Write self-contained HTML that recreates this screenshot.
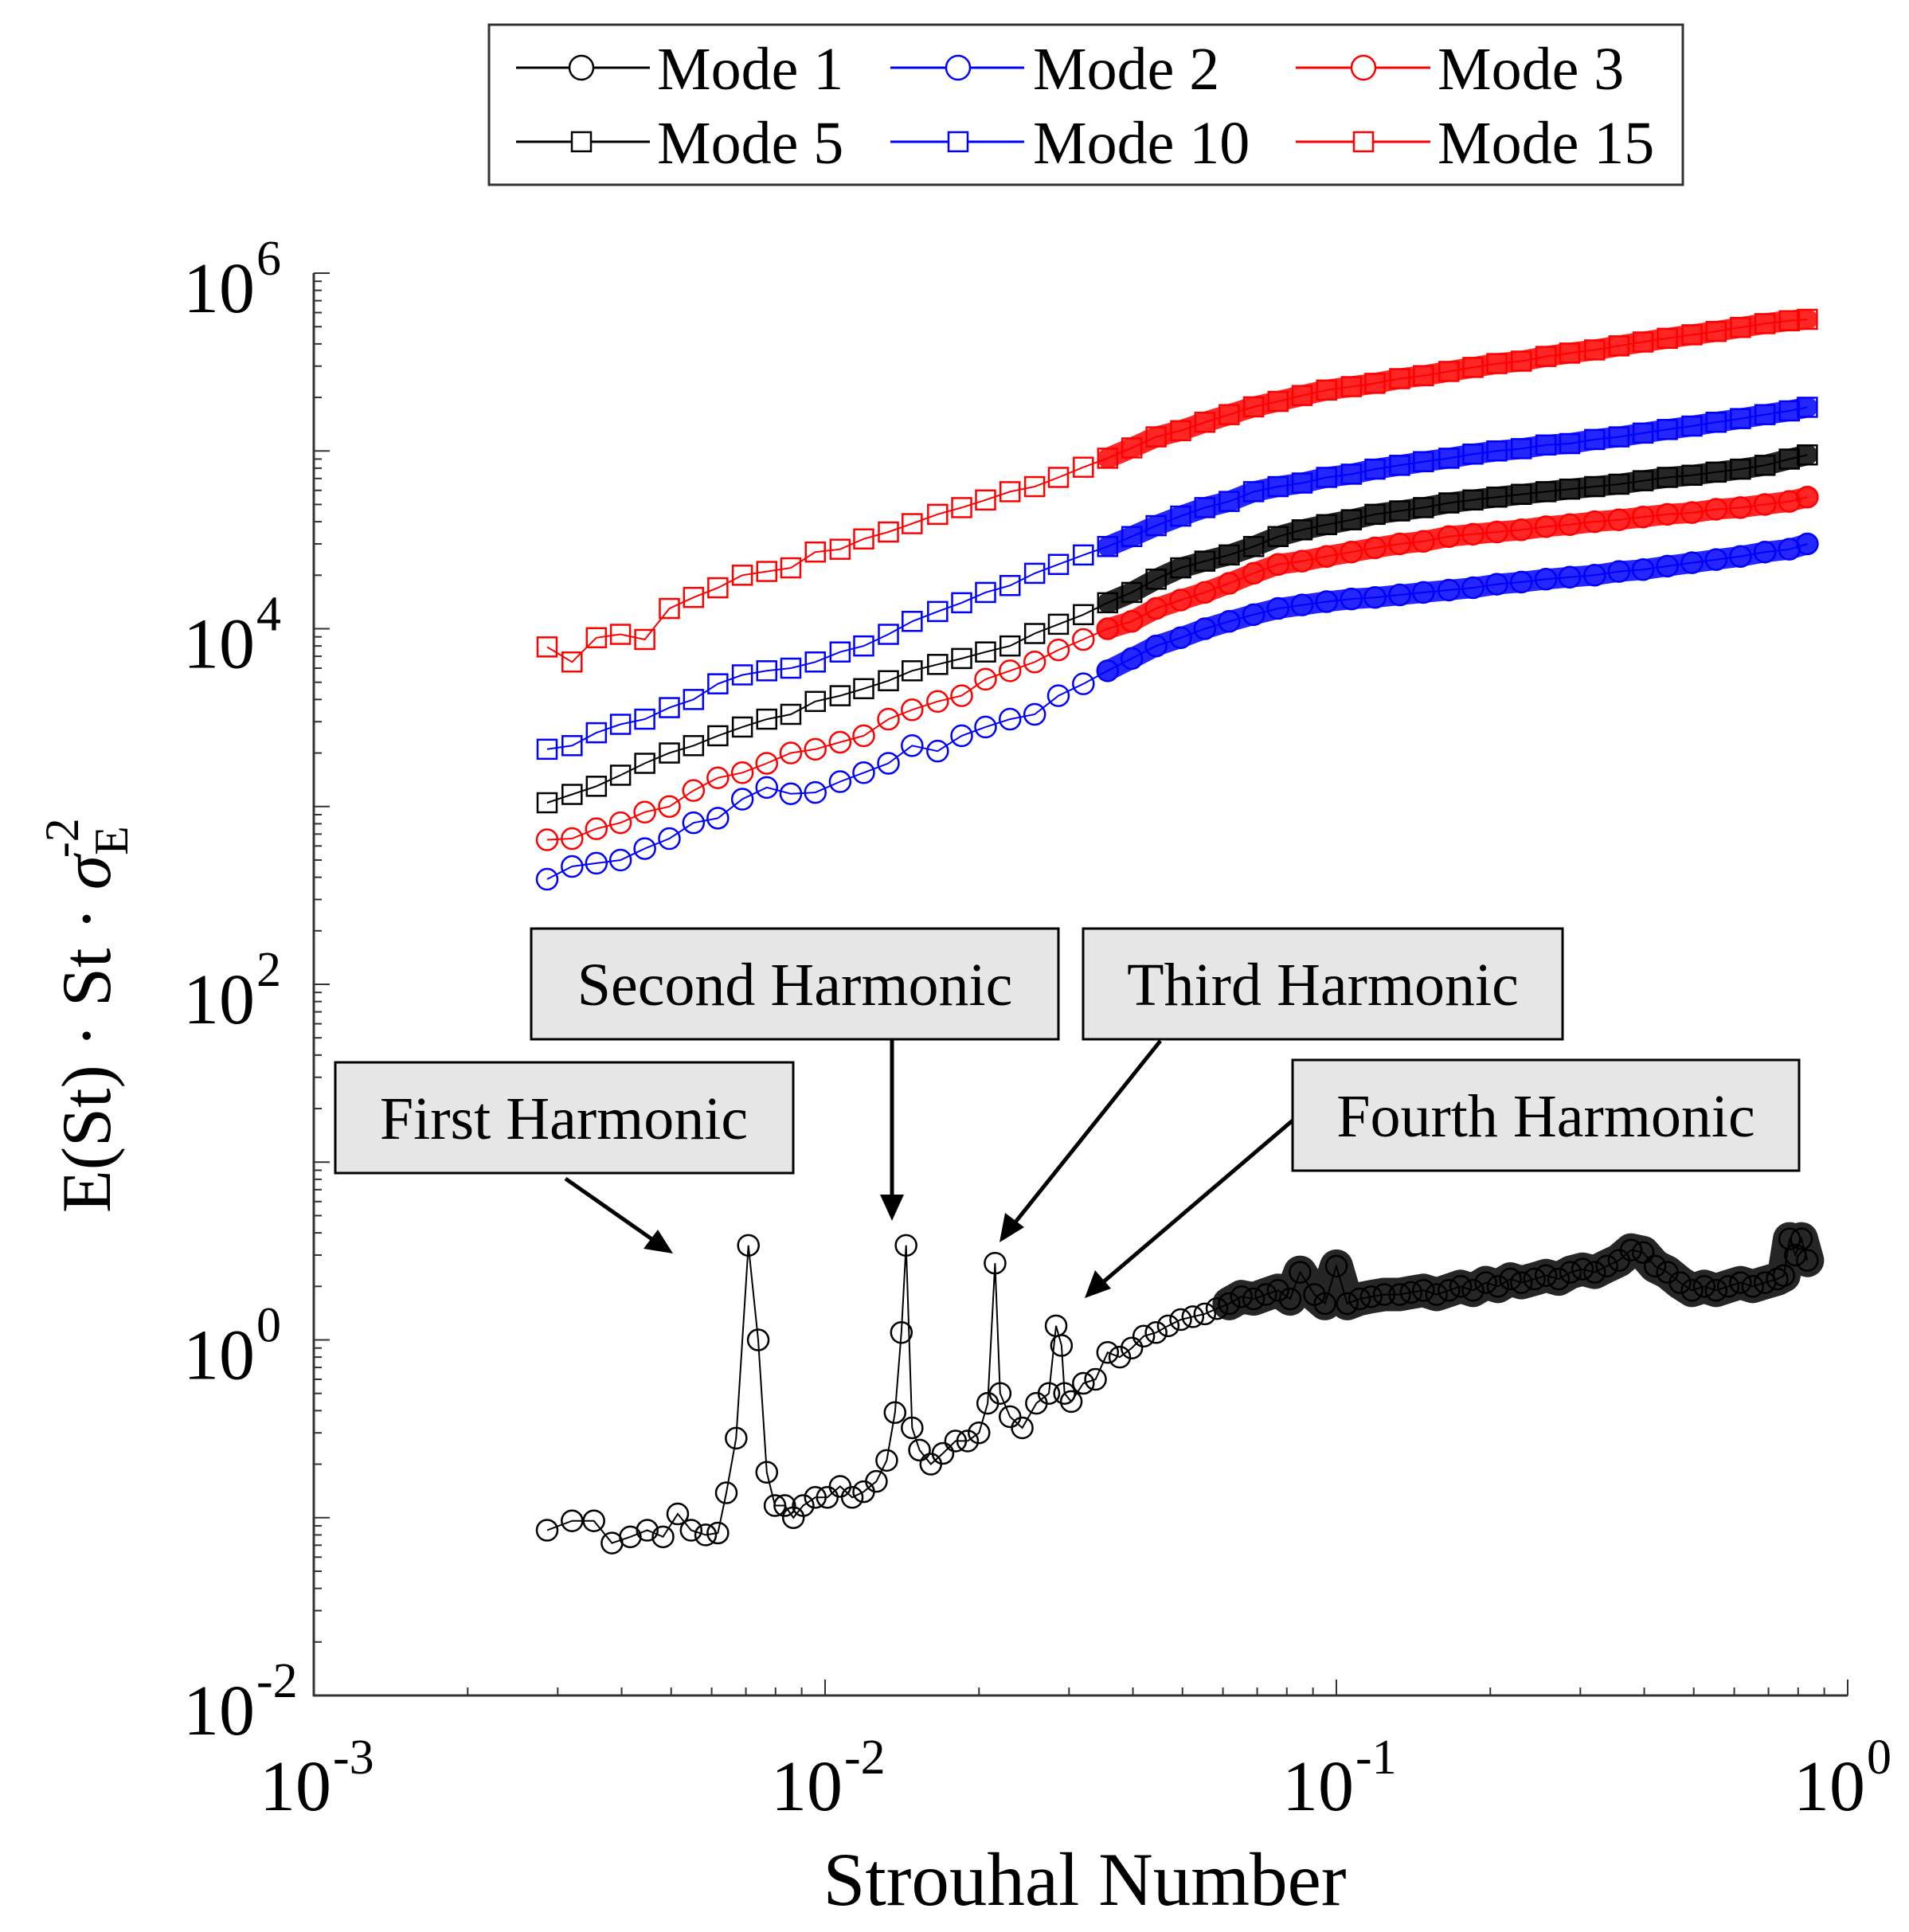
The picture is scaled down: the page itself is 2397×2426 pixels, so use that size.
<!DOCTYPE html>
<html><head><meta charset="utf-8">
<style>
html,body{margin:0;padding:0;background:#fff;}
svg{display:block;font-family:"Liberation Serif",serif;}
</style></head>
<body>
<svg id="chart" width="2397" height="2426" viewBox="0 0 2397 2426" xmlns="http://www.w3.org/2000/svg">
<rect x="0" y="0" width="2397" height="2426" fill="#fff"/>
<g id="plot"></g>
<g id="axes"></g>
<g id="legend">
  <rect x="614" y="31" width="1499" height="201" fill="#fff" stroke="#333" stroke-width="3"/>
  <g>
    <line x1="648" y1="85" x2="816" y2="85" stroke="#000" stroke-width="3"/><circle cx="730" cy="85" r="15" fill="#fff" stroke="#000" stroke-width="2.5"/>
    <text x="825" y="112" font-size="76">Mode 1</text></g>
  <g>
    <line x1="1118" y1="85" x2="1286" y2="85" stroke="#0000ff" stroke-width="3"/><circle cx="1203" cy="85" r="15" fill="#fff" stroke="#0000ff" stroke-width="2.5"/>
    <text x="1297" y="112" font-size="76">Mode 2</text></g>
  <g>
    <line x1="1627" y1="85" x2="1796" y2="85" stroke="#ff0000" stroke-width="3"/><circle cx="1712" cy="85" r="15" fill="#fff" stroke="#ff0000" stroke-width="2.5"/>
    <text x="1805" y="112" font-size="76">Mode 3</text></g>
  <g>
    <line x1="648" y1="178" x2="816" y2="178" stroke="#000" stroke-width="3"/><rect x="718" y="166" width="24" height="24" fill="#fff" stroke="#000" stroke-width="2.5"/>
    <text x="825" y="205" font-size="76">Mode 5</text></g>
  <g>
    <line x1="1118" y1="178" x2="1286" y2="178" stroke="#0000ff" stroke-width="3"/><rect x="1191" y="166" width="24" height="24" fill="#fff" stroke="#0000ff" stroke-width="2.5"/>
    <text x="1297" y="205" font-size="76">Mode 10</text></g>
  <g>
    <line x1="1627" y1="178" x2="1796" y2="178" stroke="#ff0000" stroke-width="3"/><rect x="1700" y="166" width="24" height="24" fill="#fff" stroke="#ff0000" stroke-width="2.5"/>
    <text x="1805" y="205" font-size="76">Mode 15</text></g>
</g>
<g id="annotations">
  <g>
    <rect x="421" y="1334" width="575" height="139" fill="#e6e6e6" stroke="#000" stroke-width="3"/>
    <text x="708" y="1430" font-size="76" text-anchor="middle">First Harmonic</text>
    <line x1="710" y1="1480" x2="820" y2="1557" stroke="#000" stroke-width="5"/>
    <polygon points="845,1574 808,1568 826,1544" fill="#000"/>
  </g>
  <g>
    <rect x="667" y="1166" width="662" height="139" fill="#e6e6e6" stroke="#000" stroke-width="3"/>
    <text x="998" y="1262" font-size="76" text-anchor="middle">Second Harmonic</text>
    <line x1="1120" y1="1306" x2="1120" y2="1505" stroke="#000" stroke-width="5"/>
    <polygon points="1120,1533 1105,1500 1135,1500" fill="#000"/>
  </g>
  <g>
    <rect x="1360" y="1166" width="602" height="139" fill="#e6e6e6" stroke="#000" stroke-width="3"/>
    <text x="1661" y="1262" font-size="76" text-anchor="middle">Third Harmonic</text>
    <line x1="1457" y1="1307" x2="1273" y2="1537" stroke="#000" stroke-width="5"/>
    <polygon points="1255,1560 1262,1523 1286,1541" fill="#000"/>
  </g>
  <g>
    <rect x="1623" y="1331" width="636" height="139" fill="#e6e6e6" stroke="#000" stroke-width="3"/>
    <text x="1941" y="1427" font-size="76" text-anchor="middle">Fourth Harmonic</text>
    <line x1="1623" y1="1407" x2="1385" y2="1610" stroke="#000" stroke-width="5"/>
    <polygon points="1362,1630 1375,1595 1395,1618" fill="#000"/>
  </g>
</g>
</svg>
<script>
const stGrid = [0.00286,0.0032,0.00357,0.00398,0.00444,0.00496,0.00553,0.00617,0.00689,0.00769,0.00857,0.00957,0.0107,0.0119,0.0133,0.0148,0.0166,0.0185,0.0206,0.023,0.0257,0.0286,0.032,0.0357,0.0398,0.0444,0.0496,0.0553,0.0617,0.0689,0.0769,0.0857,0.0957,0.107,0.119,0.133,0.148,0.166,0.185,0.206,0.23,0.257,0.286,0.32,0.357,0.398,0.444,0.496,0.553,0.617,0.689,0.769,0.834];
const mode2Val = [390,460,480,500,580,660,810,860,1100,1280,1180,1200,1380,1550,1750,2200,2050,2500,2800,3100,3300,4200,4900,5800,6800,8000,8900,1.0e4,1.1e4,1.2e4,1.3e4,1.36e4,1.42e4,1.47e4,1.5e4,1.55e4,1.6e4,1.65e4,1.7e4,1.78e4,1.83e4,1.9e4,1.95e4,2.0e4,2.1e4,2.15e4,2.25e4,2.35e4,2.45e4,2.55e4,2.7e4,2.8e4,3.0e4];
const mode3Val = [650,660,750,810,930,1000,1230,1450,1550,1750,2000,2100,2300,2500,3100,3500,3900,4200,5200,5800,6500,7600,8700,1.0e4,1.1e4,1.3e4,1.45e4,1.6e4,1.8e4,2.05e4,2.3e4,2.4e4,2.55e4,2.7e4,2.85e4,3.0e4,3.1e4,3.3e4,3.4e4,3.5e4,3.6e4,3.75e4,3.85e4,4.0e4,4.1e4,4.25e4,4.4e4,4.5e4,4.7e4,4.8e4,5.0e4,5.2e4,5.5e4];
const mode5Val = [1050,1170,1300,1500,1750,2000,2200,2500,2800,3100,3300,3900,4200,4600,5100,5800,6300,6800,7400,8000,9400,1.06e4,1.2e4,1.4e4,1.6e4,1.9e4,2.2e4,2.4e4,2.6e4,2.9e4,3.3e4,3.6e4,3.85e4,4.1e4,4.4e4,4.6e4,4.8e4,5.1e4,5.3e4,5.5e4,5.7e4,5.9e4,6.1e4,6.3e4,6.5e4,6.8e4,7.1e4,7.3e4,7.6e4,7.9e4,8.3e4,9.0e4,9.5e4];
const mode10Val = [2100,2200,2600,2900,3100,3600,4000,4900,5500,5800,6000,6500,7400,8000,9300,1.1e4,1.25e4,1.4e4,1.6e4,1.75e4,2.05e4,2.3e4,2.6e4,2.9e4,3.3e4,3.8e4,4.3e4,4.8e4,5.2e4,5.9e4,6.3e4,6.6e4,7.1e4,7.4e4,7.9e4,8.3e4,8.7e4,9.1e4,9.6e4,1.0e5,1.03e5,1.08e5,1.1e5,1.16e5,1.2e5,1.26e5,1.32e5,1.38e5,1.45e5,1.52e5,1.6e5,1.68e5,1.76e5];
const mode15Val = [7900,6500,8900,9300,8700,1.3e4,1.5e4,1.7e4,2.0e4,2.1e4,2.2e4,2.7e4,2.8e4,3.2e4,3.5e4,3.9e4,4.4e4,4.8e4,5.3e4,5.9e4,6.3e4,7.1e4,8.1e4,9.1e4,1.04e5,1.2e5,1.3e5,1.45e5,1.6e5,1.77e5,1.9e5,2.05e5,2.2e5,2.3e5,2.4e5,2.55e5,2.65e5,2.8e5,2.95e5,3.1e5,3.2e5,3.4e5,3.55e5,3.7e5,3.9e5,4.1e5,4.3e5,4.5e5,4.7e5,4.95e5,5.2e5,5.4e5,5.5e5];
const mode1St = [0.00286,0.0032,0.00353,0.00383,0.00416,0.00449,0.00482,0.00515,0.00547,0.00584,0.00617,0.00641,0.0067,0.00708,0.0074,0.00769,0.00798,0.00834,0.00867,0.00906,0.00957,0.0101,0.0107,0.0113,0.0119,0.0126,0.0132,0.0137,0.0141,0.0144,0.0148,0.0153,0.0161,0.017,0.018,0.019,0.02,0.0208,0.0215,0.022,0.023,0.0243,0.0259,0.0274,0.0283,0.029,0.0294,0.0303,0.032,0.0338,0.0357,0.0377,0.0398,0.042,0.0444,0.0469,0.0496,0.0524,0.0553,0.0584,0.0617,0.0652,0.0689,0.0728,0.0769,0.0812,0.0849,0.0906,0.095,0.1,0.105,0.111,0.117,0.124,0.133,0.14,0.148,0.157,0.166,0.175,0.185,0.196,0.207,0.219,0.23,0.244,0.257,0.272,0.287,0.303,0.32,0.338,0.357,0.377,0.398,0.42,0.444,0.47,0.496,0.524,0.553,0.584,0.617,0.652,0.689,0.728,0.75,0.77,0.79,0.812,0.834];
const mode1Val = [0.085,0.096,0.096,0.072,0.078,0.085,0.078,0.105,0.085,0.08,0.082,0.138,0.28,3.4,1.0,0.18,0.117,0.117,0.1,0.117,0.13,0.13,0.15,0.13,0.14,0.16,0.21,0.39,1.1,3.4,0.32,0.24,0.2,0.23,0.27,0.27,0.3,0.44,2.7,0.5,0.37,0.32,0.44,0.5,1.2,0.93,0.5,0.45,0.57,0.6,0.85,0.8,0.9,1.05,1.1,1.2,1.3,1.35,1.4,1.5,1.6,1.75,1.7,1.8,1.9,1.7,2.4,1.8,1.6,2.6,1.6,1.7,1.75,1.8,1.8,1.85,1.9,1.8,1.9,2.0,1.9,2.1,2.0,2.2,2.1,2.2,2.3,2.2,2.4,2.5,2.4,2.6,2.8,3.2,3.1,2.6,2.4,2.1,1.9,2.0,1.9,2.0,2.1,2.0,2.1,2.2,2.3,3.7,3.0,3.7,2.8];
const xTickExps = [-3,-2,-1,0];
const yTickExps = [6,4,2,0,-2];

const X0=394, X1=2320, Y0=343, Y1=2129;
const XMIN=-3, XMAX=0, YMIN=-2, YMAX=6;
function xs(v){ return X0 + (Math.log10(v)-XMIN)/(XMAX-XMIN)*(X1-X0); }
function ys(v){ return Y1 - (Math.log10(v)-YMIN)/(YMAX-YMIN)*(Y1-Y0); }
const NS="http://www.w3.org/2000/svg";
function mk(tag, attrs, parent){ const e=document.createElementNS(NS,tag); for(const k in attrs) e.setAttribute(k,attrs[k]); parent.appendChild(e); return e; }

const plot=document.getElementById('plot');
function drawSeries(name, st, vals, color, marker, trailFrom, trailW){
  const g=mk('g',{},plot);
  
  
  const pts=st.map((s,i)=>xs(s).toFixed(1)+','+ys(vals[i]).toFixed(1));
  const tp=[]; st.forEach((s,i)=>{ if(s>=trailFrom) tp.push(pts[i]); });
  if(tp.length>1){
    const tr=mk('polyline',{points:tp.join(' '),fill:'none',stroke:color,'stroke-width':trailW,'stroke-linejoin':'round','stroke-linecap':'round','stroke-opacity':0.85},g);
    
    
  }
  const ln=mk('polyline',{points:pts.join(' '),fill:'none',stroke:color,'stroke-width':2},g);
  
  
  st.forEach((s,i)=>{
    const cx=xs(s), cy=ys(vals[i]);
    let m;
    if(marker==='o') m=mk('circle',{cx:cx,cy:cy,r:13,fill:'none',stroke:color,'stroke-width':2.5},g);
    else m=mk('rect',{x:cx-12,y:cy-12,width:24,height:24,fill:'none',stroke:color,'stroke-width':2.5},g);
    
    
  });
}
drawSeries('mode-1-series', mode1St, mode1Val, '#000', 'o', 0.06, 42);
drawSeries('mode-2-series', stGrid, mode2Val, '#0000ff', 'o', 0.035, 26);
drawSeries('mode-3-series', stGrid, mode3Val, '#ff0000', 'o', 0.035, 26);
drawSeries('mode-5-series', stGrid, mode5Val, '#000', 's', 0.035, 26);
drawSeries('mode-10-series', stGrid, mode10Val, '#0000ff', 's', 0.035, 26);
drawSeries('mode-15-series', stGrid, mode15Val, '#ff0000', 's', 0.035, 26);

const axes=document.getElementById('axes');
const ya=mk('line',{x1:X0,y1:Y0,x2:X0,y2:Y1+1,stroke:'#333','stroke-width':3},axes);


const xa=mk('line',{x1:X0-1,y1:Y1,x2:X1,y2:Y1,stroke:'#333','stroke-width':3},axes);


for(let d=YMIN; d<=YMAX; d++){
  for(let k=1;k<=9;k++){
    if(d===YMAX && k>1) break;
    const y=ys(k*Math.pow(10,d));
    const t=mk('line',{x1:X0,y1:y,x2:X0+(k===1?20:10),y2:y,stroke:'#333','stroke-width':2},axes);
    
    
  }
}
for(let d=XMIN; d<=XMAX; d++){
  for(let k=1;k<=9;k++){
    if(d===XMAX && k>1) break;
    const x=xs(k*Math.pow(10,d));
    const t=mk('line',{x1:x,y1:Y1,x2:x,y2:Y1-(k===1?20:10),stroke:'#333','stroke-width':2},axes);
    
    
  }
}
yTickExps.forEach(e=>{
  const y=ys(Math.pow(10,e));
  const t=mk('text',{x:320,y:y+49,'font-size':90,'text-anchor':'end'},axes);
  t.textContent='10';
  
  
  const s=mk('text',{x:322,y:y+2,'font-size':62},axes);
  s.textContent=String(e);
  
  
});
xTickExps.forEach(e=>{
  const x=xs(Math.pow(10,e));
  const t=mk('text',{x:x+22,y:2273,'font-size':90,'text-anchor':'end'},axes);
  t.textContent='10';
  
  
  const s=mk('text',{x:x+24,y:2227,'font-size':62},axes);
  s.textContent=String(e);
  
  
});
const xl=mk('text',{x:1362,y:2392,'font-size':95,'text-anchor':'middle'},axes);
xl.textContent='Strouhal Number';


const yl=mk('text',{x:-1523,y:138,'font-size':88,transform:'rotate(-90)'},axes);


yl.innerHTML='E(St) · St · <tspan font-style="italic">σ</tspan><tspan font-size="60" dy="22">E</tspan><tspan font-size="60" dx="-40" dy="-62">-2</tspan>';
</script>
</body></html>
